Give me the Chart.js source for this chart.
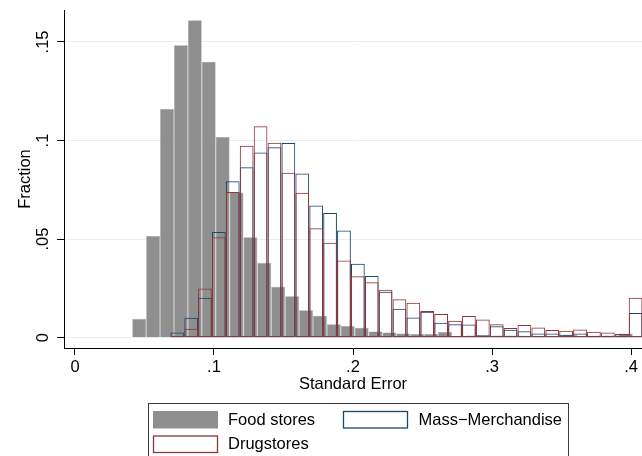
<!DOCTYPE html>
<html>
<head>
<meta charset="utf-8">
<script src="https://cdn.jsdelivr.net/npm/chart.js@4/dist/chart.umd.min.js"></script>
<style>
  html, body { margin: 0; padding: 0; background: #ffffff; }
  #wrap { width: 642px; height: 456px; position: relative; }
</style>
</head>
<body>
<div id="wrap"><canvas id="c" width="642" height="456"></canvas></div>
<script>
// ---------------- data ----------------
const seriesNames = ['Food stores', 'Mass\u2212Merchandise', 'Drugstores'];

// bin centres (standard error) of the food-store histogram
const foodBins = [0.0462, 0.0562, 0.0662, 0.0762, 0.0862, 0.0962, 0.1062, 0.1162, 0.1262, 0.1362,
                  0.1462, 0.1562, 0.1662, 0.1762, 0.1862, 0.1962, 0.2062, 0.2162, 0.2262, 0.2362,
                  0.2462, 0.2562, 0.2662, 0.2762, 0.2862, 0.2962, 0.3062, 0.3162, 0.3262, 0.3362,
                  0.3462, 0.3562, 0.3662, 0.3762, 0.3862, 0.3962];
const foodFraction = [0.0096, 0.0516, 0.1161, 0.1483, 0.1610, 0.1400, 0.1018, 0.0737, 0.0509, 0.0380,
                      0.0259, 0.0210, 0.0139, 0.0112, 0.0069, 0.0059, 0.0051, 0.0032, 0.0027, 0.0022,
                      0.0019, 0.0019, 0.0029, 0.0009, 0.0012, 0.0010, 0.0012, 0.0012, 0.0010, 0.0010,
                      0.0010, 0.0015, 0.0008, 0.0008, 0.0010, 0.0022];

// bin centres shared by the mass-merchandise and drugstore histograms
const storeBins = [0.0736, 0.0836, 0.0935, 0.1035, 0.1135, 0.1235, 0.1335, 0.1435, 0.1535, 0.1635,
                   0.1735, 0.1835, 0.1935, 0.2035, 0.2135, 0.2234, 0.2334, 0.2434, 0.2534, 0.2634,
                   0.2734, 0.2834, 0.2934, 0.3034, 0.3133, 0.3233, 0.3333, 0.3433, 0.3533, 0.3633,
                   0.3733, 0.3833, 0.3933, 0.4033];
const massFraction = [0.0027, 0.0101, 0.0203, 0.0536, 0.0793, 0.0864, 0.0940, 0.0966, 0.0987, 0.0833,
                      0.0671, 0.0632, 0.0544, 0.0375, 0.0313, 0.0233, 0.0147, 0.0103, 0.0132, 0.0076,
                      0.0068, 0.0067, 0.0013, 0.0058, 0.0040, 0.0033, 0.0021, 0.0021, 0.0015, 0.0021,
                      0.0010, 0.0010, 0.0012, 0.0126];
const drugFraction = [0.0010, 0.0046, 0.0250, 0.0509, 0.0739, 0.0974, 0.1072, 0.0989, 0.0837, 0.0735,
                      0.0555, 0.0482, 0.0392, 0.0312, 0.0281, 0.0243, 0.0195, 0.0177, 0.0136, 0.0120,
                      0.0086, 0.0110, 0.0092, 0.0069, 0.0049, 0.0064, 0.0052, 0.0039, 0.0036, 0.0042,
                      0.0031, 0.0026, 0.0019, 0.0203];

const xTicks = [0, 0.1, 0.2, 0.3, 0.4];
const xTickLabels = ['0', '.1', '.2', '.3', '.4'];
const yTicks = [0, 0.05, 0.1, 0.15];
const yTickLabels = ['0', '.05', '.1', '.15'];
const xTitle = 'Standard Error';
const yTitle = 'Fraction';

// ---------------- styling ----------------
const FONT = "'Liberation Sans', Arial, Helvetica, sans-serif";
const FS = 16.5;
const GRAY = '#8f8f8f';
const NAVY = '#1a476f';
const MAROON = '#90353b';
const X_RANGE = [-0.0079, 0.4079];
const Y_RANGE = [-0.0052, 0.1662];

Chart.defaults.font.family = FONT;
Chart.defaults.font.size = FS;
Chart.defaults.color = '#000000';

const toPoints = (xs, ys) => xs.map((x, i) => ({ x: x, y: ys[i] }));

const legendPlugin = {
  id: 'stataLegend',
  afterDraw(chart, args, opts) {
    const ctx = chart.ctx;
    const ds = chart.data.datasets;
    ctx.save();
    ctx.strokeStyle = '#3c3c3c';
    ctx.lineWidth = 1;
    ctx.strokeRect(opts.box[0], opts.box[1], opts.box[2], opts.box[3]);
    ctx.font = FS + 'px ' + FONT;
    ctx.textBaseline = 'middle';
    ctx.textAlign = 'left';
    opts.items.forEach(it => {
      const d = ds[it.index];
      const [sx, sy, sw, sh] = it.swatch;
      if (d.legendFill) {
        ctx.fillStyle = d.backgroundColor;
        ctx.fillRect(sx, sy, sw, sh);
      } else {
        ctx.fillStyle = '#ffffff';
        ctx.fillRect(sx, sy, sw, sh);
        ctx.strokeStyle = d.borderColor;
        ctx.lineWidth = 1.3;
        ctx.strokeRect(sx + 0.5, sy + 0.5, sw - 1, sh - 1);
      }
      ctx.fillStyle = '#000000';
      ctx.fillText(d.label, it.text[0], it.text[1]);
    });
    ctx.restore();
  }
};

new Chart(document.getElementById('c'), {
  type: 'bar',
  data: {
    datasets: [
      {
        label: seriesNames[0],
        data: toPoints(foodBins, foodFraction),
        xAxisID: 'xFood',
        order: 3,
        backgroundColor: GRAY,
        borderColor: '#a3a3a3',
        borderWidth: 0.6,
        borderSkipped: 'start',
        legendFill: true
      },
      {
        label: seriesNames[1],
        data: toPoints(storeBins, massFraction),
        xAxisID: 'x',
        order: 2,
        backgroundColor: 'rgba(255,255,255,0)',
        borderColor: NAVY,
        borderWidth: 1,
        borderSkipped: false
      },
      {
        label: seriesNames[2],
        data: toPoints(storeBins, drugFraction),
        xAxisID: 'x',
        order: 1,
        backgroundColor: 'rgba(255,255,255,0)',
        borderColor: MAROON,
        borderWidth: 1,
        borderSkipped: false
      }
    ]
  },
  options: {
    responsive: false,
    animation: false,
    events: [],
    layout: { padding: { top: 10, right: 0, bottom: 58, left: 0 } },
    datasets: {
      bar: { barPercentage: 1, categoryPercentage: 1, grouped: false, inflateAmount: 0 }
    },
    scales: {
      x: {
        type: 'linear',
        axis: 'x',
        position: 'bottom',
        offset: false,
        min: X_RANGE[0],
        max: X_RANGE[1],
        afterBuildTicks: s => { s.ticks = xTicks.map(v => ({ value: v })); },
        afterFit: s => { s.height = 50; s.paddingLeft = 0; s.paddingRight = 0; },
        ticks: {
          callback: (v, i) => xTickLabels[i],
          minRotation: 0, maxRotation: 0, autoSkip: false,
          padding: 3, color: '#000000', font: { size: FS }
        },
        grid: { offset: false, drawOnChartArea: false, drawTicks: true, tickLength: 7, tickColor: '#000000', tickWidth: 1, color: '#000000' },
        border: { display: true, color: '#000000', width: 1 },
        title: { display: true, text: xTitle, color: '#000000', font: { size: FS }, padding: { top: 0, bottom: 4 } }
      },
      xFood: {
        type: 'linear',
        axis: 'x',
        position: 'bottom',
        display: false,
        offset: false,
        grid: { offset: false },
        min: X_RANGE[0],
        max: X_RANGE[1],
        afterBuildTicks: s => { s.ticks = xTicks.map(v => ({ value: v })); }
      },
      y: {
        type: 'linear',
        position: 'left',
        min: Y_RANGE[0],
        max: Y_RANGE[1],
        afterBuildTicks: s => { s.ticks = yTicks.map(v => ({ value: v })); },
        afterFit: s => { s.width = 64; s.paddingTop = 0; s.paddingBottom = 0; },
        ticks: {
          callback: (v, i) => yTickLabels[i],
          minRotation: 90, maxRotation: 90, autoSkip: false,
          crossAlign: 'center', padding: 2, color: '#000000', font: { size: FS }
        },
        grid: { drawOnChartArea: true, color: '#e8eff1', lineWidth: 1, drawTicks: true, tickLength: 7, tickColor: '#000000', tickWidth: 1 },
        border: { display: true, color: '#000000', width: 1 },
        title: { display: true, text: yTitle, color: '#000000', font: { size: FS }, padding: { top: 16, bottom: 0 } }
      }
    },
    plugins: {
      legend: { display: false },
      tooltip: { enabled: false },
      stataLegend: {
        box: [148.5, 403.5, 420, 80],
        items: [
          { index: 0, swatch: [153, 411, 65, 17.5], text: [228, 420] },
          { index: 1, swatch: [343, 411, 65, 17.5], text: [418.5, 420] },
          { index: 2, swatch: [153, 435.5, 65, 17.5], text: [228, 444] }
        ]
      }
    }
  },
  plugins: [legendPlugin]
});
</script>
</body>
</html>
